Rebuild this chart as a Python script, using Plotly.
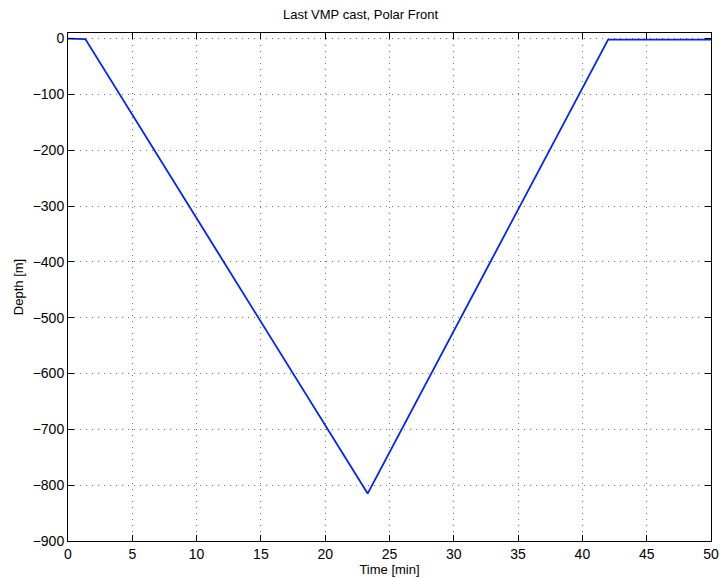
import plotly.graph_objects as go

time_min = [0.0, 1.35, 23.3, 42.0, 50.0]
depth_m = [0.0, -1.0, -815.0, -2.0, -2.0]
x_ticks = [0, 5, 10, 15, 20, 25, 30, 35, 40, 45, 50]
y_ticks = [0, -100, -200, -300, -400, -500, -600, -700, -800, -900]

fig = go.Figure()
fig.add_trace(go.Scatter(x=time_min, y=depth_m, mode="lines",
                         line=dict(color="#0022ff", width=1.8), showlegend=False))

font = dict(family="Liberation Sans, Arial, sans-serif", size=14, color="black")
axis_common = dict(showline=True, linecolor="black", linewidth=1, mirror="ticks",
                   ticks="inside", ticklen=6, tickcolor="black",
                   showgrid=True, gridcolor="rgba(0,0,0,0.55)", griddash="1px,5px", gridwidth=1,
                   zeroline=False, tickfont=font, automargin=False)
fig.update_layout(
    width=721, height=578, autosize=False,
    margin=dict(l=68, r=10, t=33, b=37, autoexpand=False),
    paper_bgcolor="white", plot_bgcolor="white",
    font=font,
    title=dict(text="Last VMP cast, Polar Front", x=0.5, xanchor="center", y=0.975, yanchor="middle",
               font=dict(size=13)),
    xaxis=dict(range=[0, 50], tickvals=x_ticks, title=dict(text="Time [min]", standoff=0, font=dict(size=13)), **axis_common),
    yaxis=dict(range=[-900, 10], tickvals=y_ticks, ticktext=[str(v).replace("-", "\u2212") for v in y_ticks],
               title=dict(text="Depth [m]", standoff=6, font=dict(size=13)), **axis_common),
)
fig.write_html("out.html")
